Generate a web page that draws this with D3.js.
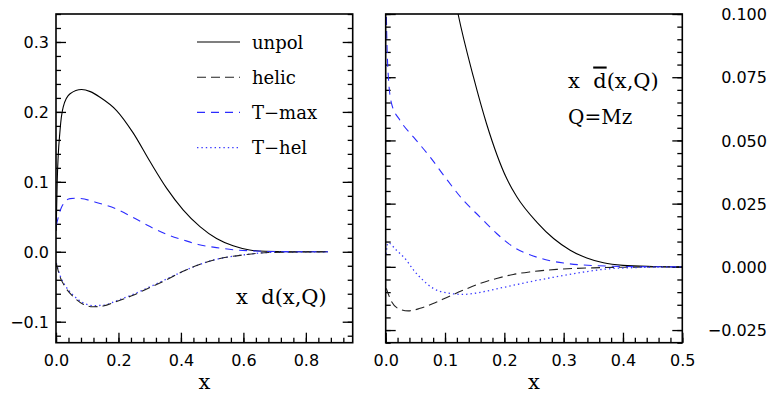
<!DOCTYPE html>
<html>
<head>
<meta charset="utf-8">
<script src="https://cdn.jsdelivr.net/npm/d3@7"></script>
<style>
  body { margin: 0; background: #fff; }
  .tick text { font-family: "DejaVu Sans", sans-serif; font-size: 16px; fill: #000; }
  .tick line { stroke: #000; stroke-width: 1.3; }
  .lbl { font-family: "DejaVu Serif", serif; fill: #000; }
</style>
</head>
<body>
<div id="container"></div>
<script>
// ---- data ----
// left panel: x d(x,Q)
const leftUnpolX = [0.0005, 0.004, 0.013, 0.023, 0.045, 0.082, 0.11, 0.141, 0.194, 0.247, 0.301, 0.354, 0.407, 0.461, 0.514, 0.567, 0.62, 0.67, 0.75, 0.87];
const leftUnpol  = [0.03, 0.102, 0.174, 0.207, 0.226, 0.232, 0.229, 0.221, 0.202, 0.170, 0.129, 0.091, 0.060, 0.036, 0.019, 0.0086, 0.0026, 0.0007, 0.0001, 0];
const leftTmaxX  = [0.001, 0.018, 0.045, 0.066, 0.141, 0.194, 0.247, 0.301, 0.354, 0.407, 0.455, 0.514, 0.567, 0.62, 0.7, 0.87];
const leftTmax   = [0.038, 0.064, 0.076, 0.0765, 0.069, 0.061, 0.049, 0.036, 0.025, 0.017, 0.0105, 0.006, 0.003, 0.0014, 0.0003, 0];
const leftHelX   = [0.001, 0.013, 0.029, 0.055, 0.087, 0.119, 0.151, 0.194, 0.247, 0.301, 0.354, 0.407, 0.455, 0.503, 0.61, 0.68, 0.87];
const leftHelic  = [-0.017, -0.036, -0.050, -0.064, -0.075, -0.0786, -0.0776, -0.071, -0.062, -0.051, -0.040, -0.028, -0.019, -0.012, -0.004, -0.001, 0];
const leftThel   = [-0.016, -0.034, -0.048, -0.062, -0.073, -0.077, -0.0765, -0.070, -0.061, -0.050, -0.039, -0.028, -0.019, -0.012, -0.004, -0.001, 0];

// right panel: x dbar(x,Q)
const rightUnpolX = [0.10, 0.122, 0.148, 0.170, 0.204, 0.221, 0.255, 0.283, 0.311, 0.339, 0.367, 0.40, 0.45, 0.5];
const rightUnpol  = [0.128, 0.100, 0.075, 0.0566, 0.0349, 0.0277, 0.0176, 0.0112, 0.0066, 0.0035, 0.0016, 0.0006, 0.00015, 0];
const rightTmaxX  = [0.0005, 0.0011, 0.0045, 0.010, 0.024, 0.047, 0.075, 0.100, 0.131, 0.159, 0.187, 0.215, 0.243, 0.27, 0.30, 0.35, 0.42, 0.5];
const rightTmax   = [0.11, 0.100, 0.075, 0.0645, 0.058, 0.0513, 0.0434, 0.0355, 0.0263, 0.0197, 0.0132, 0.0079, 0.0048, 0.0028, 0.0015, 0.0005, 0.0001, 0];
const rightHelX   = [0.001, 0.010, 0.024, 0.038, 0.058, 0.080, 0.103, 0.131, 0.159, 0.187, 0.215, 0.243, 0.288, 0.35, 0.42, 0.5];
const rightHelic  = [-0.0085, -0.0138, -0.0168, -0.0174, -0.0164, -0.0145, -0.0121, -0.0092, -0.0066, -0.0046, -0.0030, -0.0020, -0.0010, -0.0004, -0.0001, 0];
const rightThelX  = [0.0005, 0.004, 0.018, 0.035, 0.047, 0.063, 0.080, 0.103, 0.131, 0.159, 0.187, 0.215, 0.243, 0.288, 0.33, 0.37, 0.42, 0.5];
const rightThel   = [0.005, 0.0095, 0.0066, 0.0026, -0.0013, -0.0053, -0.0085, -0.0103, -0.0109, -0.0101, -0.0087, -0.0073, -0.0059, -0.0039, -0.0022, -0.0009, -0.0003, 0];

// ticks
const leftXMajor  = [0, 0.2, 0.4, 0.6, 0.8];
const leftYMajor  = [-0.1, 0, 0.1, 0.2, 0.3];
const rightXMajor = [0, 0.1, 0.2, 0.3, 0.4, 0.5];
const rightYMajor = [-0.025, 0, 0.025, 0.05, 0.075, 0.1];

const legendNames = ["unpol", "helic", "T\u2212max", "T\u2212hel"];

// ---- styles ----
const styles = {
    unpol: { color: "#000", dash: null, width: 1.1 },
    helic: { color: "#222", dash: "9,5", width: 1.1 },
    tmax:  { color: "#2b2bff", dash: "8,6", width: 1.1 },
    thel:  { color: "#3a3aff", dash: "1.4,3", width: 1.3 }
};

const width = 769, height = 395;
const svg = d3.select("#container").append("svg")
    .attr("width", width)
    .attr("height", height);

const steps = (a, b, s) => d3.range(Math.round((b - a) / s) + 1).map(i => +(a + i * s).toFixed(4));

function drawPanel(p) {
    const [xa, xb] = p.x.range();
    const [yb, yt] = p.y.range();
    const g = svg.append("g");

    svg.append("clipPath").attr("id", p.id)
        .append("rect")
        .attr("x", xa).attr("y", yt)
        .attr("width", xb - xa).attr("height", yb - yt);

    // bottom ticks (inward)
    g.append("g").attr("transform", `translate(0,${yb})`)
        .call(d3.axisBottom(p.x).tickValues(p.xMinor).tickSize(-5).tickFormat(""));
    g.append("g").attr("transform", `translate(0,${yb})`)
        .call(d3.axisBottom(p.x).tickValues(p.xMajor).tickSize(-10).tickPadding(11.6).tickFormat(d3.format(".1f")));

    // left side ticks
    g.append("g").attr("transform", `translate(${xa},0)`)
        .call(d3.axisLeft(p.y).tickValues(p.yMinor).tickSize(-5).tickFormat(""));
    const leftAx = g.append("g").attr("transform", `translate(${xa},0)`)
        .call(d3.axisLeft(p.y).tickValues(p.yMajor).tickSize(-10).tickPadding(7)
            .tickFormat(p.labels === "left" ? d3.format(p.yFmt) : ""));
    leftAx.selectAll("text").attr("dy", "0.36em");

    // right side ticks
    g.append("g").attr("transform", `translate(${xb},0)`)
        .call(d3.axisRight(p.y).tickValues(p.yMinor).tickSize(-5).tickFormat(""));
    const rightAx = g.append("g").attr("transform", `translate(${xb},0)`)
        .call(d3.axisRight(p.y).tickValues(p.yMajor).tickSize(-10)
            .tickFormat(p.labels === "right" ? d3.format(p.yFmt) : ""));
    rightAx.selectAll("text").attr("x", 767 - xb).attr("dy", "0.36em").style("text-anchor", "end");

    g.selectAll(".domain").remove();

    // curves
    const line = d3.line()
        .x(d => p.x(d[0]))
        .y(d => p.y(d[1]))
        .curve(d3.curveMonotoneX);

    const plot = g.append("g").attr("clip-path", `url(#${p.id})`);
    p.series.forEach(s => {
        const st = styles[s.key];
        plot.append("path")
            .datum(d3.zip(s.x, s.y))
            .attr("fill", "none")
            .attr("stroke", st.color)
            .attr("stroke-width", st.width)
            .attr("stroke-dasharray", st.dash)
            .attr("d", line);
    });

    // frame
    g.append("rect")
        .attr("x", xa).attr("y", yt)
        .attr("width", xb - xa).attr("height", yb - yt)
        .attr("fill", "none")
        .attr("stroke", "#000")
        .attr("stroke-width", 1.6);

    // axis title
    g.append("text")
        .attr("class", "lbl")
        .attr("x", (xa + xb) / 2)
        .attr("y", 389)
        .attr("text-anchor", "middle")
        .style("font-size", "21px")
        .text("x");
    return g;
}

const xLeft  = d3.scaleLinear().domain([0, 0.95]).range([56, 352.7]);
const yLeft  = d3.scaleLinear().domain([-0.13, 0.34]).range([342.7, 14]);
const xRight = d3.scaleLinear().domain([0, 0.5]).range([385.7, 682.3]);
const yRight = d3.scaleLinear().domain([-0.03, 0.1]).range([342.7, 14]);

const gLeft = drawPanel({
    id: "clipL", x: xLeft, y: yLeft,
    xMajor: leftXMajor, xMinor: steps(0, 0.92, 0.04),
    yMajor: leftYMajor, yMinor: steps(-0.12, 0.34, 0.02),
    yFmt: ".1f", labels: "left",
    series: [
        { key: "unpol", x: leftUnpolX, y: leftUnpol },
        { key: "tmax",  x: leftTmaxX,  y: leftTmax },
        { key: "thel",  x: leftHelX,   y: leftThel },
        { key: "helic", x: leftHelX,   y: leftHelic }
    ]
});

const gRight = drawPanel({
    id: "clipR", x: xRight, y: yRight,
    xMajor: rightXMajor, xMinor: steps(0, 0.5, 0.02),
    yMajor: rightYMajor, yMinor: steps(-0.03, 0.1, 0.005),
    yFmt: ".3f", labels: "right",
    series: [
        { key: "unpol", x: rightUnpolX, y: rightUnpol },
        { key: "tmax",  x: rightTmaxX,  y: rightTmax },
        { key: "helic", x: rightHelX,   y: rightHelic },
        { key: "thel",  x: rightThelX,  y: rightThel }
    ]
});

// legend
const legendKeys = ["unpol", "helic", "tmax", "thel"];
const legend = gLeft.append("g");
legendNames.forEach((name, i) => {
    const base = 48.5 + i * 35.2;
    const st = styles[legendKeys[i]];
    legend.append("line")
        .attr("x1", 197).attr("x2", 240)
        .attr("y1", base - 6.5).attr("y2", base - 6.5)
        .attr("stroke", st.color)
        .attr("stroke-width", st.width)
        .attr("stroke-dasharray", st.dash);
    legend.append("text")
        .attr("class", "lbl")
        .attr("x", 252).attr("y", base)
        .style("font-size", "18px")
        .text(name);
});

// panel labels
gLeft.append("text")
    .attr("class", "lbl")
    .attr("x", 236).attr("y", 303.5)
    .style("font-size", "21px")
    .style("white-space", "pre")
    .text("x  d(x,Q)");

const lblR = gRight.append("text")
    .attr("class", "lbl")
    .attr("x", 568).attr("y", 87.5)
    .style("font-size", "21px")
    .style("white-space", "pre");
lblR.append("tspan").text("x  ");
lblR.append("tspan").style("text-decoration", "overline").text("d");
lblR.append("tspan").text("(x,Q)");

gRight.append("text")
    .attr("class", "lbl")
    .attr("x", 568).attr("y", 124)
    .style("font-size", "20px")
    .text("Q=Mz");
</script>
</body>
</html>
